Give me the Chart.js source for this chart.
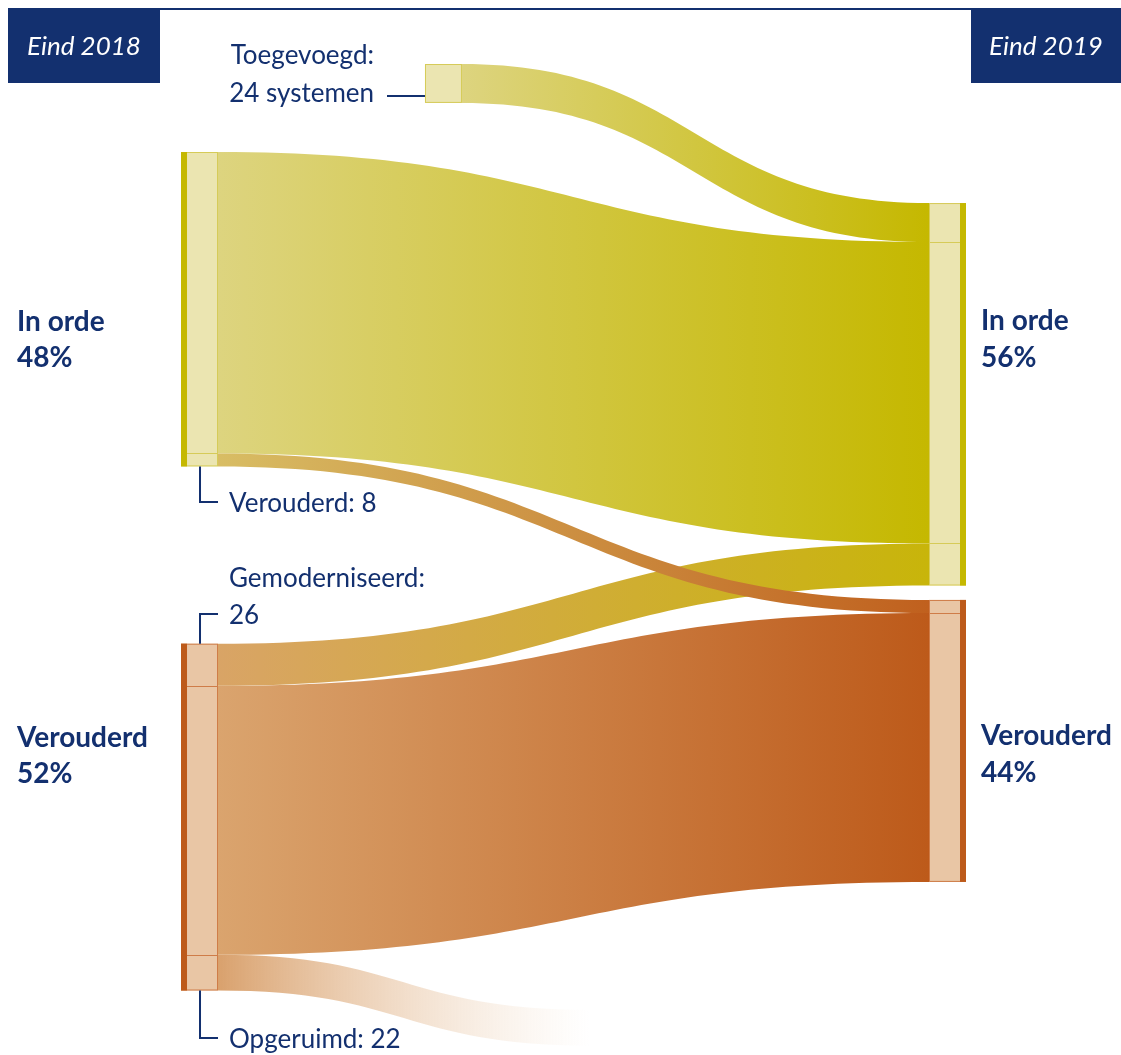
<!DOCTYPE html>
<html>
<head>
<meta charset="utf-8">
<script src="https://cdn.jsdelivr.net/npm/chart.js@4.4.0/dist/chart.umd.min.js"></script>
<style>
  body { margin: 0; background: #fff; }
  canvas { display: block; }
</style>
</head>
<body>
<canvas id="sankey" width="1121" height="1055"></canvas>
<script>
// gegevens: aantallen systemen eind 2018 -> eind 2019
const kolommen = ['Eind 2018', 'Eind 2019'];
const statussen = ['In orde', 'Verouderd'];
const procent2018 = [48, 52];
const procent2019 = [56, 44];
const stroomVan = ['toegevoegd', 'inorde18', 'inorde18', 'verouderd18', 'verouderd18', 'verouderd18'];
const stroomNaar = ['inorde19', 'inorde19', 'verouderd19', 'inorde19', 'verouderd19', 'opgeruimd'];
const stroomAantal = [24, 186, 8, 26, 166, 22];
const stroomNaam = ['Toegevoegd', '', 'Verouderd', 'Gemoderniseerd', '', 'Opgeruimd'];

// opmaak
const navy = '#13306f';
const geel = { donker: '#c5b800', licht: '#ebe5b1', rand: '#d6cb58' };
const oranje = { donker: '#bd5a1a', licht: '#e9c6a5', rand: '#cf7c48' };
const knoopBreedte = 37;
const balkBreedte = 6;

// x: 0 = linkerkant kolom 2018, y in aantal systemen
const knopen = {
  toegevoegd:  { x: 0.3108, top: 39.5,  kleur: geel,   balk: null },
  inorde18:    { x: 0,      top: 93.8,  kleur: geel,   balk: 'links' },
  verouderd18: { x: 0,      top: 397.2, kleur: oranje, balk: 'links' },
  inorde19:    { x: 0.9529, top: 125.3, kleur: geel,   balk: 'rechts' },
  verouderd19: { x: 0.9529, top: 370.2, kleur: oranje, balk: 'rechts' },
  opgeruimd:   { x: 0.521,  top: 623.2, kleur: null,   balk: null }
};

const stroomKleur = [
  ['#ddd47f', '#c5b800'],
  ['#ddd47f', '#c5b800'],
  ['#d8bd64', '#c0601e'],
  ['#d9a466', '#c8b50a'],
  ['#daa46e', '#bd5a1a'],
  ['#d9a16d', 'rgba(240,215,190,0)']
];
const tekenVolgorde = [0, 1, 4, 3, 2, 5];

const sankeyPlugin = {
  id: 'sankey',
  afterDraw(chart) {
    const ctx = chart.ctx;
    const px = v => chart.scales.x.getPixelForValue(v);
    const py = v => chart.scales.y.getPixelForValue(v);

    // posities van de stromen binnen de knopen
    const uit = {}, in_ = {}, deling = {};
    Object.keys(knopen).forEach(k => { uit[k] = 0; in_[k] = 0; deling[k] = []; });
    const banen = stroomAantal.map((v, i) => {
      const a = stroomVan[i], b = stroomNaar[i];
      const baan = {
        y0: knopen[a].top + uit[a], y1: knopen[b].top + in_[b], v: v
      };
      uit[a] += v; in_[b] += v;
      deling[a].push(uit[a]); deling[b].push(in_[b]);
      return baan;
    });

    // stromen
    tekenVolgorde.forEach(i => {
      const a = knopen[stroomVan[i]], b = knopen[stroomNaar[i]];
      const b0 = banen[i];
      const x0 = px(a.x) + knoopBreedte;
      const x1 = px(b.x);
      const xm = (x0 + x1) / 2;
      const t0 = py(b0.y0), o0 = py(b0.y0 + b0.v);
      const t1 = py(b0.y1), o1 = py(b0.y1 + b0.v);
      const grad = ctx.createLinearGradient(x0, 0, x1, 0);
      grad.addColorStop(0, stroomKleur[i][0]);
      grad.addColorStop(1, stroomKleur[i][1]);
      ctx.beginPath();
      ctx.moveTo(x0, t0);
      ctx.bezierCurveTo(xm, t0, xm, t1, x1, t1);
      ctx.lineTo(x1, o1);
      ctx.bezierCurveTo(xm, o1, xm, o0, x0, o0);
      ctx.closePath();
      ctx.fillStyle = grad;
      ctx.fill();
    });

    // knopen
    Object.keys(knopen).forEach(k => {
      const n = knopen[k];
      if (!n.kleur) return;
      const waarde = Math.max(uit[k], in_[k]);
      const x = px(n.x), y = py(n.top), h = py(n.top + waarde) - y;
      ctx.fillStyle = n.kleur.licht;
      ctx.fillRect(x, y, knoopBreedte, h);
      ctx.strokeStyle = n.kleur.rand;
      ctx.lineWidth = 1;
      ctx.strokeRect(x + 0.5, y + 0.5, knoopBreedte - 1, h - 1);
      deling[k].slice(0, -1).forEach(d => {
        const yy = Math.round(py(n.top + d)) + 0.5;
        ctx.beginPath();
        ctx.moveTo(x, yy);
        ctx.lineTo(x + knoopBreedte, yy);
        ctx.stroke();
      });
      if (n.balk) {
        ctx.fillStyle = n.kleur.donker;
        const bx = n.balk === 'links' ? x : x + knoopBreedte - balkBreedte;
        ctx.fillRect(bx, y, balkBreedte, h);
      }
    });

    // kopjes
    ctx.fillStyle = navy;
    ctx.fillRect(8, 8, 1113, 2);
    ctx.fillRect(8, 8, 152, 75);
    ctx.fillRect(971, 8, 150, 75);
    ctx.fillStyle = '#fff';
    ctx.font = 'italic 26px Lato';
    ctx.textAlign = 'center';
    ctx.textBaseline = 'alphabetic';
    ctx.fillText(kolommen[0], 84, 55);
    ctx.fillText(kolommen[1], 1046, 55);

    // grote labels
    ctx.textAlign = 'left';
    ctx.fillStyle = navy;
    ctx.font = 'bold 28px Lato';
    ctx.fillText(statussen[0], 17, 331);
    ctx.fillText(procent2018[0] + '%', 17, 367);
    ctx.fillText(statussen[1], 17, 747);
    ctx.fillText(procent2018[1] + '%', 17, 783);
    ctx.fillText(statussen[0], 981, 330);
    ctx.fillText(procent2019[0] + '%', 981, 367);
    ctx.fillText(statussen[1], 981, 745);
    ctx.fillText(procent2019[1] + '%', 981, 782);

    // stroomlabels met verbindingslijnen
    ctx.font = '26px Lato';
    ctx.strokeStyle = navy;
    ctx.lineWidth = 2;
    const lijn = pts => {
      ctx.beginPath();
      ctx.moveTo(pts[0][0], pts[0][1]);
      pts.slice(1).forEach(p => ctx.lineTo(p[0], p[1]));
      ctx.stroke();
    };
    const tx = px(knopen.inorde18.x) + knoopBreedte + 11;
    const lx = px(knopen.inorde18.x) + 19;

    ctx.textAlign = 'right';
    ctx.fillText(stroomNaam[0] + ':', 374, 64);
    ctx.fillText(stroomAantal[0] + ' systemen', 374, 102);
    lijn([[387, 96], [px(knopen.toegevoegd.x), 96]]);

    ctx.textAlign = 'left';
    const ondIO = py(knopen.inorde18.top + uit.inorde18);
    lijn([[lx, ondIO], [lx, 502], [tx - 11, 502]]);
    ctx.fillText(stroomNaam[2] + ': ' + stroomAantal[2], tx, 512);

    const bovV = py(knopen.verouderd18.top);
    lijn([[lx, bovV], [lx, 614], [tx - 11, 614]]);
    ctx.fillText(stroomNaam[3] + ':', tx, 587);
    ctx.fillText(String(stroomAantal[3]), tx, 624);

    const ondV = py(knopen.verouderd18.top + uit.verouderd18);
    lijn([[lx, ondV], [lx, 1038], [tx - 11, 1038]]);
    ctx.fillText(stroomNaam[5] + ': ' + stroomAantal[5], tx, 1048);
  }
};

new Chart(document.getElementById('sankey'), {
  type: 'scatter',
  data: { datasets: [] },
  options: {
    responsive: false,
    animation: false,
    layout: { padding: 0 },
    plugins: { legend: { display: false }, tooltip: { enabled: false } },
    scales: {
      x: { type: 'linear', min: -0.2306, max: 1.1975, display: false },
      y: { type: 'linear', min: 0, max: 651, reverse: true, display: false }
    }
  },
  plugins: [sankeyPlugin]
});
</script>
</body>
</html>
